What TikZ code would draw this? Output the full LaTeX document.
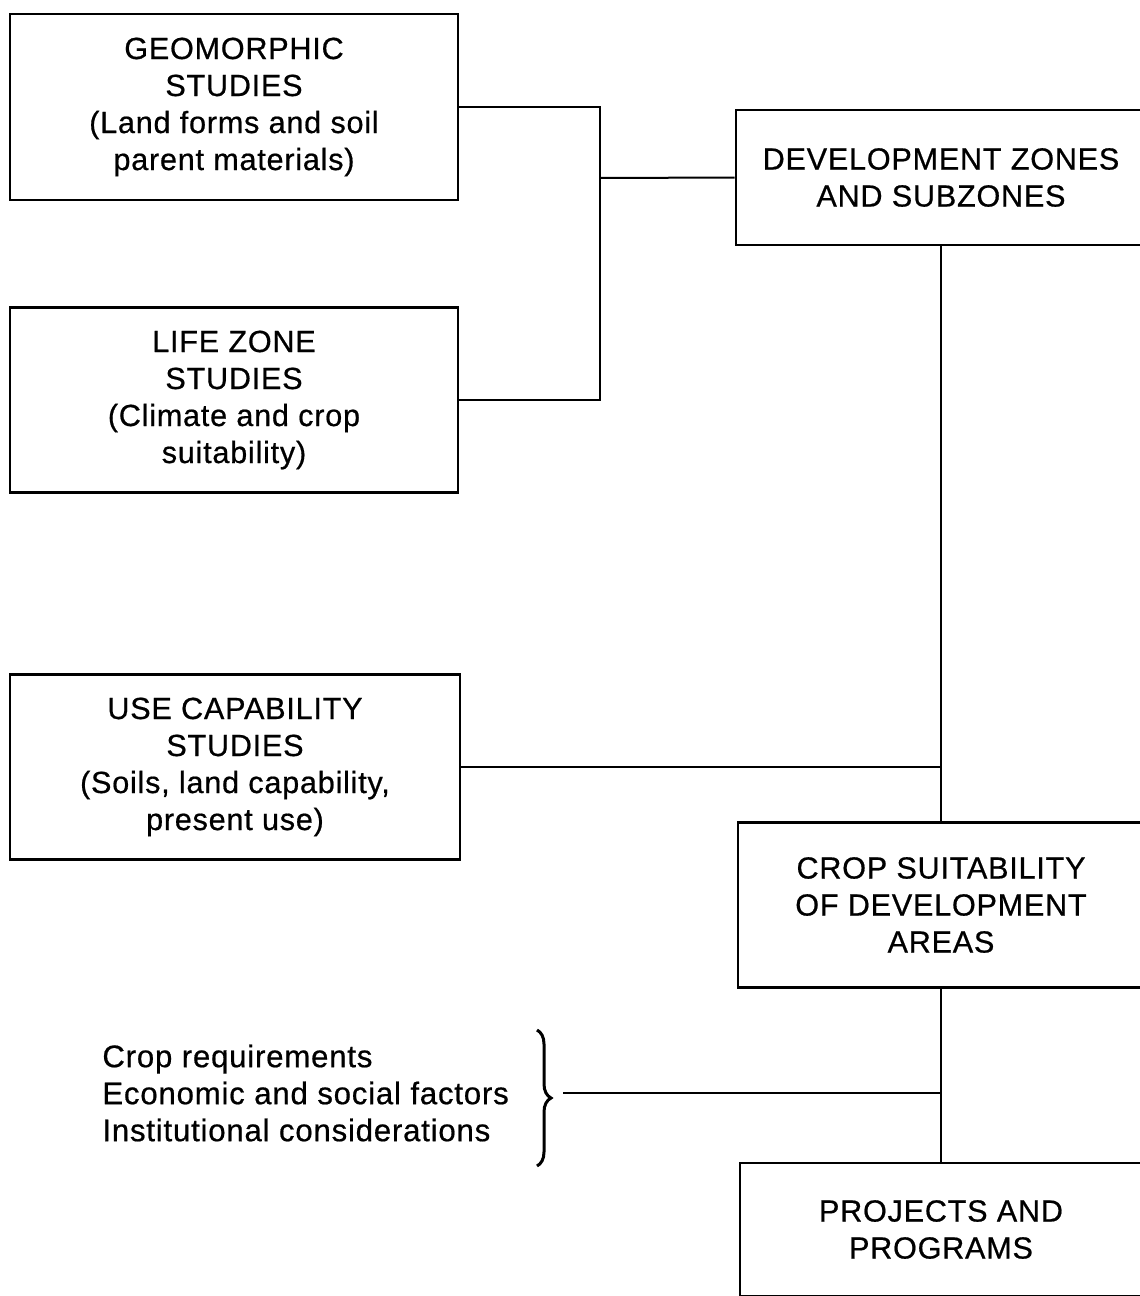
\documentclass[tikz,border=0pt]{standalone}
\usepackage{fontspec}
\setmainfont{Liberation Sans}[LetterSpace=2.5,FakeBold=0.6]
\usetikzlibrary{decorations.pathreplacing}
\begin{document}
\begin{tikzpicture}[x=0.5pt,y=-0.5pt,
  box/.style={draw, line width=1.4pt, align=center, inner sep=0pt,
    font=\fontsize{15.3}{18.5}\selectfont},
  conn/.style={line width=1pt},
  plain/.style={align=left, inner sep=0pt, font=\fontsize{15.6}{18.5}\selectfont}]
\useasboundingbox (0,0) rectangle (1140,1296);
\clip (0,0) rectangle (1140,1296);
\node[box, minimum width=224pt, minimum height=93pt] (geo) at (234,107)
  {GEOMORPHIC\\STUDIES\\(Land forms and soil\\parent materials)};
\node[box, minimum width=224pt, minimum height=92.5pt] (life) at (234,400)
  {LIFE ZONE\\STUDIES\\(Climate and crop\\suitability)};
\node[box, minimum width=225pt, minimum height=92.5pt] (use) at (235,767)
  {USE CAPABILITY\\STUDIES\\(Soils, land capability,\\present use)};
\node[box, minimum width=205pt, minimum height=67.5pt] (dev) at (941,177.5)
  {DEVELOPMENT ZONES\\AND SUBZONES};
\node[box, minimum width=203pt, minimum height=82.5pt] (crop) at (941,905)
  {CROP SUITABILITY\\OF DEVELOPMENT\\AREAS};
\node[box, minimum width=201pt, minimum height=66.5pt] (proj) at (941,1229.5)
  {PROJECTS AND\\PROGRAMS};
\node[plain, anchor=west] (fac) at (102,1093)
  {Crop requirements\\Economic and social factors\\Institutional considerations};
\coordinate (j) at (600,178);
\coordinate (btop) at (537,1030);
\coordinate (bbot) at (537,1166);
\coordinate (bt) at (563,1093);
\draw[conn] (geo.east) -| (j);
\draw[conn] (life.east) -| (j);
\draw[conn] (j) -- (dev.west);
\draw[conn] (dev.south) -- (crop.north);
\draw[conn] (use.east) -- (use.east -| dev.south);
\draw[conn] (crop.south) -- (proj.north);
\draw[line width=1.5pt, decorate, decoration={brace, amplitude=7pt}] (btop) -- (bbot);
\draw[conn] (bt) -- (bt -| crop.south);
\end{tikzpicture}
\end{document}
